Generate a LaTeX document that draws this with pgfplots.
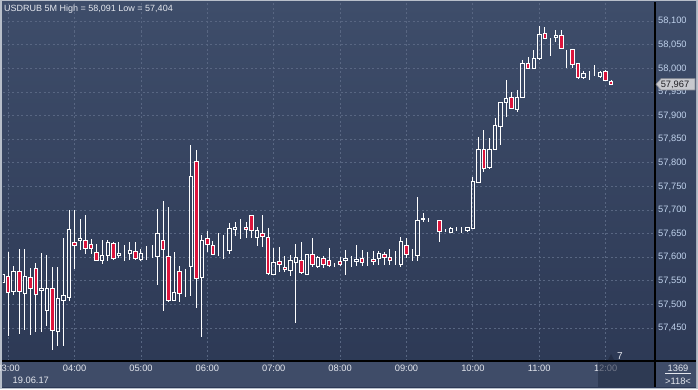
\documentclass[border=0pt]{standalone}
\usepackage{fontspec}
\setmainfont{Liberation Sans}
\usepackage{pgfplots}
\usepackage{pgfplotstable}
\pgfplotsset{compat=1.18}
\definecolor{bgtop}{RGB}{62,77,106}
\definecolor{bgbot}{RGB}{44,56,84}
\definecolor{strip}{RGB}{63,76,104}
\definecolor{gridc}{RGB}{88,102,130}
\definecolor{bear}{RGB}{220,20,60}
\definecolor{ylab}{RGB}{192,210,236}
\definecolor{xlab}{RGB}{228,231,238}
\definecolor{framec}{RGB}{184,191,202}
\definecolor{scrollc}{RGB}{36,46,70}

% 5-minute candles, i = 0 is 03:00 (19.06.17)
\pgfplotstableread{
i o h l c
-1 57.546 57.570 57.540 57.563
0 57.560 57.612 57.434 57.526
1 57.528 57.582 57.519 57.570
2 57.570 57.618 57.437 57.528
3 57.524 57.618 57.446 57.560
4 57.558 57.577 57.436 57.533
5 57.577 57.588 57.441 57.522
6 57.529 57.609 57.442 57.533
7 57.488 57.605 57.455 57.534
8 57.533 57.579 57.404 57.445
9 57.443 57.579 57.412 57.513
10 57.509 57.641 57.412 57.519
11 57.514 57.701 57.507 57.658
12 57.632 57.701 57.575 57.624
13 57.636 57.682 57.616 57.639
14 57.636 57.690 57.607 57.619
15 57.627 57.638 57.607 57.619
16 57.609 57.628 57.591 57.594
17 57.592 57.637 57.586 57.604
18 57.604 57.636 57.593 57.631
19 57.628 57.632 57.595 57.597
20 57.604 57.632 57.598 57.607
21 57.606 57.625 57.593 57.606
22 57.607 57.632 57.595 57.614
23 57.612 57.632 57.595 57.598
24 57.595 57.618 57.593 57.607
25 57.604 57.624 57.595 57.604
26 57.605 57.625 57.598 57.605
27 57.601 57.703 57.542 57.650
28 57.636 57.719 57.486 57.616
29 57.601 57.706 57.507 57.508
30 57.509 57.612 57.508 57.526
31 57.570 57.581 57.505 57.524
32 57.525 57.575 57.515 57.525
33 57.580 57.838 57.517 57.771
34 57.803 57.827 57.492 57.554
35 57.556 57.648 57.431 57.636
36 57.640 57.656 57.612 57.627
37 57.624 57.634 57.606 57.606
38 57.612 57.651 57.603 57.612
39 57.608 57.647 57.596 57.608
40 57.614 57.672 57.607 57.661
41 57.658 57.675 57.646 57.662
42 57.674 57.682 57.639 57.674
43 57.664 57.675 57.641 57.658
44 57.689 57.689 57.640 57.656
45 57.642 57.665 57.623 57.656
46 57.651 57.689 57.621 57.644
47 57.642 57.661 57.562 57.566
48 57.564 57.619 57.562 57.589
49 57.591 57.621 57.569 57.585
50 57.578 57.602 57.569 57.573
51 57.572 57.605 57.561 57.592
52 57.589 57.629 57.461 57.600
53 57.593 57.633 57.564 57.568
54 57.564 57.605 57.563 57.605
55 57.605 57.640 57.580 57.584
56 57.580 57.603 57.578 57.600
57 57.598 57.603 57.578 57.584
58 57.593 57.619 57.580 57.582
59 57.584 57.588 57.580 57.584
60 57.590 57.600 57.582 57.584
61 57.594 57.615 57.562 57.597
62 57.594 57.603 57.580 57.594
63 57.590 57.626 57.582 57.596
64 57.598 57.615 57.581 57.589
65 57.593 57.612 57.582 57.593
66 57.596 57.614 57.583 57.590
67 57.598 57.614 57.583 57.607
68 57.605 57.612 57.583 57.599
69 57.600 57.617 57.584 57.593
70 57.588 57.613 57.583 57.588
71 57.584 57.642 57.580 57.634
72 57.625 57.640 57.598 57.605
73 57.605 57.617 57.593 57.605
74 57.603 57.727 57.593 57.678
75 57.682 57.694 57.675 57.679
76 57.679 57.684 57.674 57.679
77 57.677 57.677 57.677 57.677
78 57.677 57.677 57.633 57.655
79 57.656 57.660 57.653 57.656
80 57.653 57.663 57.651 57.661
81 57.660 57.663 57.656 57.660
82 57.659 57.665 57.651 57.659
83 57.656 57.663 57.653 57.662
84 57.661 57.770 57.660 57.760
85 57.759 57.855 57.759 57.828
86 57.829 57.869 57.780 57.789
87 57.791 57.853 57.788 57.829
88 57.829 57.894 57.829 57.879
89 57.877 57.927 57.838 57.927
90 57.927 57.976 57.898 57.937
91 57.939 57.950 57.916 57.916
92 57.914 57.955 57.908 57.939
93 57.939 58.019 57.939 58.011
94 58.011 58.025 57.999 57.999
95 57.999 58.039 57.999 58.021
96 58.021 58.091 58.018 58.073
97 58.074 58.087 58.064 58.064
98 58.064 58.064 58.027 58.064
99 58.065 58.081 58.056 58.069
100 58.069 58.081 58.042 58.042
101 58.040 58.040 58.001 58.040
102 58.040 58.042 58.001 58.008
103 58.011 58.011 57.979 57.980
104 57.981 57.994 57.977 57.989
105 57.986 57.994 57.975 57.986
106 57.987 58.007 57.986 57.987
107 57.984 57.994 57.979 57.992
108 57.994 57.996 57.974 57.975
109 57.972 57.975 57.966 57.966
}\ohlc

\pgfplotsset{candlegeom/.style={at={(3pt,28pt)}, anchor=south west,
  width=652pt, height=358pt, scale only axis, xmin=-0.94, xmax=116.92}}

\begin{document}
\begin{tikzpicture}[x=1pt,y=1pt]
\fill[framec] (0,0) rectangle (698,389);
\shade[top color=bgtop, bottom color=bgbot] (2,2) rectangle (696,387);
\fill[strip] (2,2) rectangle (696,28);

\begin{axis}[candlegeom, ymin=57.380, ymax=58.1388,
  axis line style={draw=none},
  major tick length=0pt,
  xtick={0,12,24,36,48,60,72,84,96,108},
  xticklabels={03:00,04:00,05:00,06:00,07:00,08:00,09:00,10:00,11:00,12:00},
  ytick={57.45,57.5,57.55,57.6,57.65,57.7,57.75,57.8,57.85,57.9,57.95,58,58.05,58.1},
  yticklabels={{57,450},{57,500},{57,550},{57,600},{57,650},{57,700},{57,750},{57,800},{57,850},{57,900},{57,950},{58,000},{58,050},{58,100}},
  yticklabel pos=right,
  grid=major,
  grid style={draw=gridc, line width=0.8pt, dash pattern=on 2pt off 2.5pt},
  tick label style={font=\fontsize{9.3}{11}\selectfont},
  xticklabel style={text=xlab, inner sep=0pt, anchor=north, yshift=-4pt},
  yticklabel style={text=ylab, anchor=west, inner sep=0pt, xshift=3pt},
  /pgf/number format/assume math mode=true,
]
\addplot[draw=none, forget plot,
  error bars/.cd, y dir=minus, y explicit, error mark=none,
  error bar style={draw=white, line width=1pt, solid}]
  table[x=i, y expr={min(\thisrow{o},\thisrow{c})},
        y error minus expr={min(\thisrow{o},\thisrow{c})-\thisrow{l}}]{\ohlc};
\addplot[draw=none, forget plot,
  error bars/.cd, y dir=plus, y explicit, error mark=none,
  error bar style={draw=white, line width=1pt, solid}]
  table[x=i, y expr={max(\thisrow{o},\thisrow{c})},
        y error plus expr={\thisrow{h}-max(\thisrow{o},\thisrow{c})}]{\ohlc};
\end{axis}

% bodies: same frame, prices measured from 57 so that stacked bars start near the axis
\begin{axis}[candlegeom, ymin=0.380, ymax=1.1388, hide axis,
  ybar stacked, bar width=0.63]
\addplot[draw=none, fill=none] table[x=i, y expr={min(\thisrow{o},\thisrow{c})-57}]{\ohlc};
\addplot[draw=white, fill=none, line width=1pt] table[x=i, y expr={max(\thisrow{c}-\thisrow{o},0)}]{\ohlc};
\addplot[draw=white, fill=bear, line width=1pt] table[x=i, y expr={max(\thisrow{o}-\thisrow{c},0)}]{\ohlc};
\end{axis}

\draw[black, line width=1.5pt] (2,28) -- (696,28);
\draw[black, line width=1.5pt] (655,2) -- (655,387);
\fill[scrollc, fill opacity=0.6] (598,2) rectangle (654,27.2);
\fill[scrollc] (608,29) -- (614,29) -- (611,35) -- cycle;
\node[anchor=base, inner sep=0pt, text=xlab, font=\fontsize{10}{12}\selectfont] at (620,30) {7};

\node[anchor=base west, inner sep=0pt, text=xlab, font=\fontsize{9}{11}\selectfont] at (4,377.4) {USDRUB 5M High = 58,091 Low = 57,404};
\node[anchor=base west, inner sep=0pt, text=xlab, font=\fontsize{9.3}{11}\selectfont] at (12.5,5.7) {19.06.17};

\node[anchor=base, inner sep=0pt, text=xlab, font=\fontsize{9.3}{11}\selectfont] at (678,17.4) {1369};
\draw[xlab, line width=0.8pt] (665,15.3) -- (691,15.3);
\node[anchor=base, inner sep=0pt, text=xlab, font=\fontsize{9.3}{11}\selectfont] at (678,5) {>118<};

\filldraw[fill={rgb,255:red,200;green,201;blue,206}, draw={rgb,255:red,140;green,142;blue,150}, line width=0.6pt]
  (656,304.7) -- (661,310.3) -- (695,310.3) -- (695,299) -- (661,299) -- cycle;
\node[anchor=base, inner sep=0pt, text={rgb,255:red,30;green,30;blue,35}, font=\fontsize{9.3}{11}\selectfont] at (675,301.4) {57,967};

\pgfresetboundingbox
\useasboundingbox (0,0) rectangle (698,389);
\end{tikzpicture}
\end{document}
